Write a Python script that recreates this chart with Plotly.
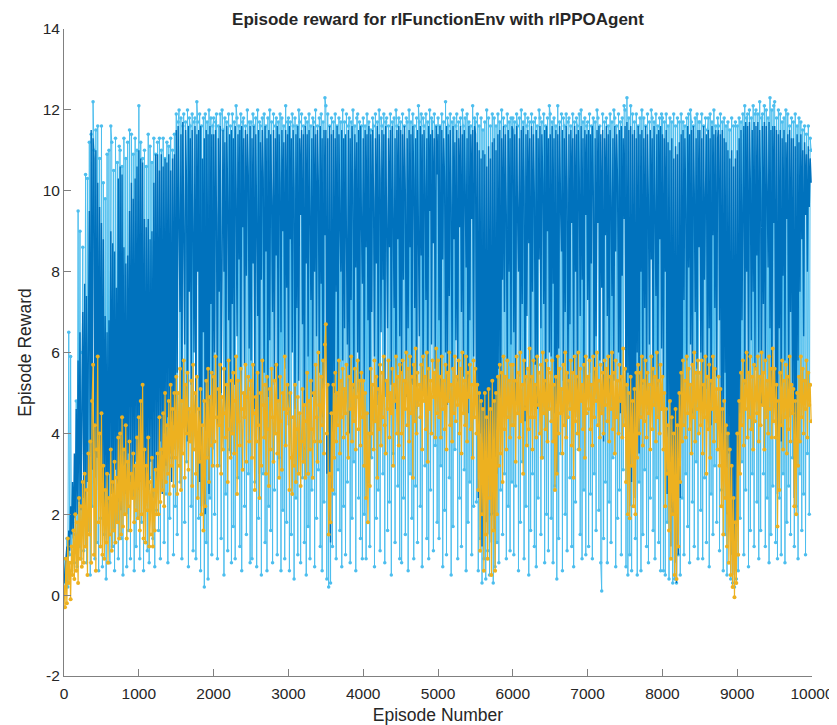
import numpy as np
import plotly.graph_objects as go

# Values, one entry per 12.5 episodes (20 entries = 250 episodes per line)
episode_reward = [
    0.3, 0.9, 0.5, 1.4, 0.2, 6.5, 1.0, 5.9, 0.6, 1.8, 2.0, 0.8, 1.5, 4.8, 0.7, 9.5, 1.2, 9.0, 0.9, 6.0,
    8.6, 1.1, 3.5, 10.4, 0.8, 10.3, 1.6, 11.2, 0.5, 11.4, 2.2, 12.2, 11.0, 0.9, 11.5, 1.3, 11.6, 0.6, 10.8, 1.9,
    11.6, 0.7, 10.2, 1.5, 9.8, 0.4, 10.9, 2.3, 11.0, 0.8, 11.6, 11.2, 1.2, 10.5, 0.6, 11.3, 1.8, 10.7, 0.9, 11.1,
    11.0, 1.4, 10.6, 0.5, 11.3, 2.0, 10.8, 0.7, 11.2, 1.6, 11.5, 0.9, 11.4, 2.6, 10.9, 0.6, 11.3, 1.2, 11.0, 1.9,
    12.1, 0.9, 11.2, 1.8, 10.8, 0.6, 11.0, 2.4, 10.6, 1.1, 11.4, 0.8, 11.1, 2.9, 10.7, 1.4, 11.3, 0.7, 10.9, 2.1,
    11.2, 1.6, 11.3, 0.9, 11.0, 3.1, 11.3, 1.3, 10.8, 2.5, 11.2, 0.8, 11.1, 1.9, 11.3, 3.4, 11.0, 1.0, 11.4, 2.2,
    11.9, 1.5, 11.7, 12.0, 2.8, 11.8, 0.9, 11.6, 11.9, 1.8, 11.7, 3.3, 12.0, 0.7, 11.8, 11.6, 2.2, 11.9, 1.1, 11.7,
    11.8, 0.9, 12.2, 11.7, 1.9, 11.9, 0.6, 11.6, 2.7, 11.8, 0.2, 11.9, 1.3, 11.7, 0.4, 12.0, 2.4, 11.8, 1.0, 11.6,
    11.8, 2.0, 11.7, 11.9, 0.9, 11.6, 3.2, 11.9, 1.4, 12.0, 11.5, 0.5, 11.8, 2.5, 11.7, 1.1, 11.9, 3.6, 11.6, 0.8,
    11.9, 1.7, 11.7, 0.9, 12.1, 11.8, 2.9, 11.6, 1.2, 11.9, 0.6, 11.7, 11.8, 2.2, 11.6, 1.5, 12.0, 3.0, 11.7, 0.8,
    11.7, 0.9, 11.9, 11.6, 2.8, 11.8, 0.7, 12.0, 1.9, 11.7, 11.6, 0.5, 11.8, 3.0, 11.9, 1.3, 11.6, 0.6, 11.8, 2.2,
    12.0, 1.6, 11.7, 0.8, 11.9, 2.6, 11.6, 11.8, 1.0, 11.7, 3.4, 11.9, 0.6, 11.8, 2.1, 11.6, 0.9, 12.1, 1.8, 11.7,
    11.8, 0.6, 11.7, 1.5, 11.9, 11.6, 0.4, 11.8, 2.4, 11.6, 1.0, 12.0, 11.7, 0.8, 11.9, 2.9, 11.6, 1.3, 11.8, 0.5,
    11.7, 1.7, 11.9, 0.9, 11.6, 2.6, 11.8, 11.7, 0.7, 12.0, 1.9, 11.6, 3.1, 11.8, 1.2, 11.9, 0.6, 11.7, 2.3, 12.3,
    12.1, 0.4, 11.9, 0.2, 11.6, 0.3, 11.8, 1.2, 11.7, 2.5, 11.9, 0.9, 11.6, 3.1, 11.8, 1.6, 11.7, 0.7, 12.0, 2.2,
    11.7, 1.0, 11.9, 2.8, 11.6, 11.8, 0.8, 11.7, 1.9, 12.0, 3.3, 11.6, 0.6, 11.8, 11.9, 2.4, 11.7, 1.4, 11.6, 0.9,
    11.8, 2.0, 11.6, 0.9, 11.9, 2.8, 11.7, 1.2, 11.5, 3.4, 11.8, 11.6, 0.7, 11.9, 1.9, 11.7, 2.6, 12.0, 1.1, 11.8,
    11.6, 3.0, 11.9, 0.8, 11.7, 11.8, 1.6, 11.6, 2.3, 11.9, 0.5, 11.7, 3.5, 11.8, 1.3, 12.0, 11.6, 2.7, 11.8, 0.9,
    11.7, 0.8, 11.9, 2.4, 11.6, 1.5, 11.8, 11.7, 0.6, 12.0, 3.0, 11.7, 1.9, 11.9, 0.9, 11.6, 2.7, 11.8, 1.3, 12.1,
    11.7, 2.2, 11.9, 0.7, 11.8, 11.6, 3.2, 11.9, 1.4, 11.7, 0.9, 12.0, 2.6, 11.8, 11.7, 1.1, 11.9, 3.7, 11.6, 1.8,
    11.8, 1.4, 11.6, 3.2, 11.9, 0.7, 11.7, 2.1, 12.2, 1.0, 11.8, 11.6, 2.9, 11.9, 0.5, 11.7, 1.7, 11.8, 3.6, 11.6,
    11.9, 0.9, 11.7, 2.4, 11.8, 1.2, 12.0, 11.6, 3.1, 11.8, 0.6, 11.9, 1.8, 11.7, 2.8, 11.6, 1.0, 12.1, 2.2, 11.8,
    11.7, 2.3, 11.9, 0.6, 11.6, 1.4, 11.8, 0.3, 11.5, 0.9, 11.7, 0.4, 12.0, 1.1, 11.8, 0.5, 11.6, 2.0, 11.9, 0.3,
    11.8, 0.7, 11.6, 1.3, 11.9, 0.8, 11.7, 2.6, 12.0, 1.5, 11.8, 3.0, 11.6, 0.9, 11.9, 2.2, 11.7, 1.1, 11.8, 2.8,
    11.8, 1.0, 11.7, 2.7, 11.9, 11.6, 0.6, 11.8, 1.8, 12.0, 3.3, 11.7, 0.9, 11.9, 2.2, 11.6, 11.8, 0.5, 11.7, 1.6,
    11.9, 3.0, 11.7, 1.2, 11.8, 0.7, 11.6, 2.4, 12.0, 11.8, 1.5, 11.7, 3.4, 11.9, 0.8, 11.6, 2.0, 11.8, 1.1, 12.1,
    11.9, 1.9, 11.7, 0.8, 11.8, 2.7, 11.6, 0.4, 12.1, 1.4, 11.7, 3.5, 11.9, 0.6, 11.8, 11.6, 2.0, 11.9, 1.1, 11.7,
    11.8, 2.9, 11.6, 1.2, 11.9, 0.7, 11.7, 2.3, 11.8, 11.6, 3.6, 11.9, 1.5, 12.0, 0.9, 11.7, 2.6, 11.8, 1.0, 11.6,
    11.7, 1.2, 11.9, 2.5, 11.6, 0.9, 11.8, 3.0, 11.7, 1.6, 12.0, 11.8, 2.1, 11.6, 0.8, 0.1, 11.9, 1.4, 11.7, 2.8,
    11.8, 0.8, 11.6, 2.3, 11.9, 1.3, 11.7, 3.4, 12.0, 11.8, 0.7, 11.6, 1.9, 11.9, 2.6, 11.7, 1.0, 11.8, 3.1, 12.1,
    12.0, 0.7, 12.3, 0.5, 11.8, 1.0, 12.1, 0.6, 11.9, 2.2, 11.7, 1.4, 11.9, 0.5, 11.6, 2.8, 11.8, 0.6, 12.0, 1.5,
    11.8, 3.1, 11.6, 1.2, 11.9, 0.8, 11.7, 2.4, 12.0, 11.8, 1.6, 11.7, 0.9, 11.9, 2.9, 11.6, 1.3, 11.8, 0.6, 11.9,
    11.8, 0.6, 11.7, 0.5, 11.9, 1.8, 11.6, 0.4, 11.8, 2.2, 11.7, 0.3, 11.9, 0.4, 11.6, 0.3, 11.8, 1.0, 11.7, 0.5,
    11.9, 2.4, 11.7, 1.0, 11.6, 3.0, 11.8, 1.7, 11.9, 0.8, 12.0, 11.7, 2.3, 11.6, 1.2, 11.8, 3.3, 11.9, 0.9, 11.7,
    11.7, 2.1, 11.9, 0.9, 11.6, 2.9, 11.8, 1.3, 11.5, 11.8, 0.7, 11.9, 2.5, 11.7, 1.5, 12.0, 3.2, 11.6, 1.8, 11.8,
    11.6, 1.1, 11.9, 2.6, 11.7, 0.6, 11.8, 1.5, 11.6, 0.5, 11.7, 2.0, 11.5, 0.4, 11.8, 0.3, 11.6, 0.2, 11.7, 0.4,
    11.6, 0.6, 11.8, 1.9, 11.7, 3.3, 11.9, 1.0, 12.1, 2.6, 11.8, 11.9, 0.7, 12.0, 1.6, 11.8, 3.0, 12.1, 1.2, 11.9,
    12.0, 2.3, 11.9, 0.9, 12.2, 1.6, 11.8, 11.9, 3.0, 12.1, 1.2, 12.0, 2.4, 11.8, 0.8, 12.3, 1.5, 12.0, 2.7, 12.1,
    12.2, 1.3, 11.8, 0.9, 12.0, 2.4, 11.9, 1.0, 11.7, 3.0, 11.8, 0.8, 12.0, 1.8, 11.9, 2.7, 11.6, 1.5, 11.8, 3.4,
    11.7, 1.2, 11.9, 2.2, 11.6, 0.9, 11.8, 3.0, 11.7, 1.6, 11.5, 2.5, 11.6, 1.0, 11.4, 3.5, 11.6, 2.0, 11.3, 11.0,
]

average_reward = [
    0.3, 0.6, 0.9, 1.2, 0.8, 1.6, 1.1, 2.2, 1.5, 2.8, 1.4, 3.5, 1.9, 4.6, 2.0, 5.8, 2.3, 6.5, 2.1, 5.2,
    7.0, 2.4, 7.7, 2.2, 7.4, 2.8, 6.6, 9.5, 2.5, 11.5, 3.1, 11.3, 10.8, 2.9, 11.0, 3.4, 10.2, 2.6, 9.6, 3.0,
    9.2, 2.4, 8.8, 2.1, 6.9, 2.6, 6.5, 1.9, 6.8, 3.0, 9.0, 2.5, 8.7, 2.2, 8.5, 3.1, 7.6, 2.7, 10.3, 2.3,
    10.6, 2.1, 10.4, 3.2, 8.6, 2.5, 8.2, 2.0, 8.4, 3.5, 9.5, 2.8, 10.2, 3.0, 9.8, 2.4, 10.3, 3.3, 10.6, 2.6,
    11.0, 2.8, 10.8, 3.4, 10.7, 2.6, 9.3, 2.2, 9.1, 3.0, 9.3, 2.6, 8.8, 3.3, 9.0, 2.4, 10.2, 3.1, 10.9, 2.7,
    10.9, 3.0, 10.5, 3.8, 10.9, 2.5, 10.6, 4.0, 10.8, 3.2, 10.7, 4.4, 10.9, 3.5, 10.5, 2.8, 10.8, 4.2, 10.9, 3.6,
    11.5, 5.5, 11.6, 9.2, 7.0, 11.4, 4.8, 11.7, 8.6, 6.2, 11.5, 10.1, 3.8, 11.6, 7.5, 11.3, 5.2, 11.5, 9.0, 6.0,
    11.6, 4.5, 11.4, 8.0, 11.5, 2.8, 11.6, 2.2, 10.8, 6.5, 11.3, 2.0, 11.5, 4.1, 11.4, 2.5, 11.6, 7.2, 11.4, 3.6,
    11.4, 6.0, 11.5, 9.4, 4.2, 11.3, 7.5, 11.6, 5.0, 10.2, 11.5, 8.0, 11.2, 4.5, 11.6, 9.7, 6.8, 11.4, 3.5, 11.5,
    7.2, 11.3, 5.2, 11.6, 10.0, 6.4, 11.4, 8.3, 11.5, 4.8, 11.6, 9.1, 11.3, 5.7, 11.5, 7.9, 11.4, 10.4, 6.1, 11.6,
    5.8, 11.3, 8.2, 11.6, 4.6, 11.4, 9.6, 6.9, 11.5, 3.0, 11.2, 7.8, 11.5, 10.3, 5.5, 11.6, 8.5, 11.3, 4.9, 11.5,
    6.3, 11.4, 9.8, 7.0, 11.5, 5.2, 11.3, 8.4, 11.6, 4.8, 11.4, 10.2, 6.5, 11.5, 9.0, 11.2, 5.6, 11.5, 7.6, 11.4,
    4.2, 11.6, 8.8, 11.3, 6.0, 11.5, 10.0, 4.6, 11.4, 7.1, 11.6, 5.3, 11.3, 9.4, 11.5, 6.7, 11.4, 3.6, 11.6, 8.2,
    11.4, 5.9, 11.5, 9.6, 7.3, 11.3, 4.9, 11.6, 8.0, 11.4, 6.4, 11.5, 10.1, 5.5, 11.6, 7.7, 11.3, 4.4, 11.5, 8.9,
    11.5, 3.0, 11.3, 1.5, 11.6, 1.3, 11.4, 2.6, 11.5, 5.0, 11.3, 7.5, 11.6, 4.6, 11.4, 9.2, 8.0, 11.5, 5.8, 11.3,
    6.6, 11.4, 9.5, 6.2, 11.5, 4.0, 11.3, 7.3, 11.6, 10.0, 5.1, 11.4, 8.1, 11.2, 6.0, 11.5, 4.4, 11.6, 9.3, 7.7,
    11.3, 5.3, 11.5, 8.6, 11.4, 6.8, 11.6, 3.4, 11.4, 7.0, 11.5, 9.8, 5.9, 11.3, 8.2, 11.6, 4.7, 11.4, 10.3, 6.5,
    11.5, 7.8, 11.4, 4.9, 11.6, 9.4, 6.6, 11.3, 8.6, 11.5, 5.2, 11.6, 10.0, 7.1, 11.3, 4.6, 11.5, 8.8, 11.6, 6.4,
    11.5, 5.5, 11.4, 7.8, 11.6, 9.9, 4.9, 11.3, 6.6, 11.5, 8.6, 11.4, 5.2, 11.6, 10.3, 7.1, 11.3, 4.6, 11.5, 9.0,
    6.4, 11.6, 8.4, 11.4, 5.0, 11.5, 10.1, 7.3, 11.3, 4.8, 11.6, 9.5, 11.4, 6.2, 11.5, 8.7, 11.3, 5.6, 11.6, 10.4,
    11.4, 6.8, 11.6, 5.0, 11.5, 8.3, 11.3, 10.2, 6.0, 11.6, 4.7, 11.4, 7.4, 11.5, 9.6, 5.6, 11.6, 8.8, 11.2, 6.3,
    11.5, 4.9, 11.3, 9.1, 11.6, 7.0, 11.4, 5.4, 11.5, 10.0, 8.1, 11.3, 4.5, 11.6, 6.8, 11.4, 9.3, 11.5, 5.9, 11.6,
    11.4, 5.2, 11.2, 2.4, 11.0, 4.0, 10.8, 1.2, 11.0, 2.8, 10.9, 1.8, 10.6, 1.5, 11.1, 3.2, 10.8, 1.3, 11.2, 2.0,
    11.3, 1.6, 11.0, 3.0, 11.4, 5.6, 11.5, 4.2, 11.3, 7.8, 11.6, 7.0, 11.4, 9.3, 5.8, 11.5, 8.0, 11.3, 6.2, 11.6,
    11.5, 6.5, 11.4, 4.8, 11.6, 9.5, 8.0, 11.3, 5.4, 11.5, 7.2, 11.6, 10.1, 4.3, 11.4, 6.9, 11.5, 8.7, 11.3, 5.0,
    11.6, 7.5, 11.4, 9.8, 5.7, 11.5, 4.6, 11.3, 8.3, 11.6, 6.6, 11.4, 10.2, 7.2, 11.5, 4.9, 11.6, 9.0, 11.3, 6.0,
    11.4, 5.9, 11.6, 7.7, 11.3, 4.5, 11.5, 3.0, 11.4, 6.1, 11.6, 9.6, 8.5, 11.5, 5.3, 11.3, 7.0, 11.6, 10.0, 4.9,
    11.4, 6.7, 11.5, 9.2, 11.3, 5.5, 11.6, 8.0, 11.4, 4.4, 11.5, 10.3, 6.9, 11.6, 7.8, 11.3, 5.0, 11.5, 9.4, 11.4,
    7.3, 11.5, 5.5, 11.4, 8.2, 11.6, 10.0, 4.7, 11.3, 6.4, 11.5, 9.2, 11.6, 5.8, 11.4, 7.6, 11.5, 3.8, 11.3, 8.9,
    11.6, 6.9, 11.4, 4.9, 11.5, 9.7, 7.4, 11.3, 5.3, 11.6, 8.5, 11.4, 10.1, 6.0, 11.5, 4.5, 11.6, 7.9, 11.3, 9.3,
    11.6, 3.8, 11.7, 5.5, 11.5, 2.2, 11.6, 2.8, 11.4, 4.0, 11.5, 2.4, 11.3, 6.0, 11.6, 3.5, 11.4, 8.0, 11.5, 5.2,
    11.3, 7.1, 11.6, 4.6, 11.4, 9.6, 6.2, 11.5, 8.3, 11.3, 5.0, 11.6, 10.0, 7.4, 11.4, 4.8, 11.5, 8.8, 11.6, 6.1,
    11.4, 5.4, 11.3, 8.0, 11.5, 2.5, 11.2, 4.8, 11.0, 1.2, 11.3, 2.0, 10.8, 0.8, 11.1, 0.3, 10.9, 1.0, 11.2, 2.4,
    11.4, 5.0, 11.5, 7.3, 11.3, 9.4, 5.8, 11.6, 8.1, 11.4, 6.2, 11.5, 4.5, 11.6, 10.0, 7.0, 11.3, 5.6, 11.5, 8.6,
    11.5, 6.0, 11.3, 4.5, 11.6, 7.8, 9.9, 11.4, 5.1, 11.5, 6.6, 11.3, 4.2, 11.6, 8.9, 11.4, 7.1, 11.5, 5.4, 11.3,
    11.5, 6.8, 11.4, 4.0, 11.5, 3.2, 11.3, 5.5, 11.2, 2.0, 11.0, 3.5, 10.8, 1.0, 11.0, 0.5, 10.6, 1.2, 10.8, 0.6,
    11.0, 2.0, 11.3, 4.5, 11.5, 6.8, 9.6, 11.6, 5.2, 11.7, 8.0, 11.6, 4.8, 11.7, 10.2, 6.3, 11.5, 7.5, 11.7, 5.6,
    11.6, 8.4, 11.7, 6.0, 11.5, 9.8, 4.7, 11.6, 7.2, 11.7, 5.5, 11.6, 10.0, 8.1, 11.7, 6.6, 11.5, 4.9, 11.6, 9.2,
    11.6, 4.2, 11.5, 2.5, 11.4, 6.6, 11.5, 3.8, 11.3, 7.9, 11.5, 5.8, 11.2, 9.3, 11.4, 4.4, 11.5, 7.0, 11.3, 5.2,
    11.3, 2.4, 11.1, 3.5, 11.4, 5.8, 11.2, 7.5, 11.4, 8.8, 11.0, 6.4, 11.2, 9.4, 10.9, 8.0, 11.1, 9.6, 10.8, 10.2,
]

episode_q0 = [
    0.2, -0.3, 0.9, -0.2, 1.4, 0.3, 0.8, -0.1, 1.2, 0.5, 1.6, 0.4, 2.0, 0.6, 1.8, 0.3, 2.4, 0.9, 2.2, 0.7,
    2.8, 0.8, 3.0, 1.2, 2.6, 0.5, 3.5, 1.5, 3.8, 0.8, 4.8, 5.7, 1.0, 4.2, 0.6, 3.6, 5.9, 1.8, 4.0, 1.2,
    4.5, 1.0, 3.2, 0.9, 2.6, 1.3, 3.0, 0.8, 2.4, 1.5, 3.6, 1.1, 2.8, 1.6, 3.3, 1.3, 2.9, 1.8, 3.9, 1.4,
    4.0, 1.5, 4.4, 1.7, 3.6, 2.0, 4.2, 1.4, 3.3, 2.2, 3.8, 1.6, 3.0, 2.4, 3.5, 1.8, 3.2, 2.1, 3.9, 1.9,
    4.4, 1.6, 4.8, 2.0, 5.2, 1.4, 3.6, 1.3, 3.2, 2.1, 3.9, 1.2, 2.8, 1.5, 3.4, 1.2, 2.6, 1.6, 3.1, 2.0,
    3.5, 2.0, 4.4, 2.3, 3.6, 2.6, 4.5, 2.2, 5.0, 2.8, 4.2, 3.0, 4.8, 2.5, 5.2, 3.2, 4.6, 2.7, 5.0, 3.4,
    5.4, 2.5, 5.0, 3.2, 5.6, 2.6, 4.8, 3.5, 5.8, 2.9, 5.2, 4.0, 5.5, 3.1, 4.6, 3.8, 5.3, 2.7, 5.7, 3.6,
    5.0, 3.0, 5.4, 2.4, 4.6, 3.3, 5.1, 2.0, 4.2, 1.6, 4.8, 2.2, 5.3, 3.4, 5.6, 2.8, 4.9, 3.7, 5.5, 3.2,
    5.4, 3.8, 5.9, 4.4, 3.2, 5.1, 4.2, 5.7, 3.0, 4.9, 3.6, 5.6, 4.5, 3.9, 5.2, 2.8, 5.8, 4.1, 3.4, 5.3,
    4.0, 5.5, 3.5, 4.8, 5.9, 2.5, 5.3, 4.3, 3.7, 5.6, 4.6, 3.1, 5.0, 4.4, 5.7, 3.3, 4.9, 5.4, 3.8, 5.1,
    5.3, 3.4, 5.7, 4.5, 2.6, 4.9, 3.8, 5.5, 4.2, 2.4, 5.0, 3.2, 5.8, 4.7, 3.9, 5.2, 3.0, 5.4, 4.1, 2.7,
    5.1, 3.6, 5.6, 4.4, 3.3, 5.3, 4.0, 5.7, 3.5, 4.8, 2.9, 5.4, 4.3, 3.1, 5.0, 4.6, 5.9, 3.7, 4.5, 5.2,
    4.6, 2.6, 5.0, 3.4, 2.5, 4.4, 3.2, 5.2, 2.8, 4.1, 4.9, 3.0, 4.5, 2.7, 3.8, 5.1, 3.3, 4.7, 2.9, 4.3,
    5.5, 3.0, 4.8, 3.6, 5.3, 4.1, 2.9, 5.0, 3.8, 5.7, 4.4, 3.3, 6.0, 4.7, 3.8, 5.4, 4.2, 5.8, 3.5, 6.2,
    6.7, 4.0, 5.2, 1.5, 3.0, 1.8, 4.5, 2.6, 5.2, 3.4, 5.5, 3.8, 5.0, 4.2, 5.8, 3.5, 5.3, 4.4, 5.6, 3.9,
    5.1, 4.5, 5.7, 4.0, 3.4, 5.4, 4.6, 5.9, 3.8, 5.2, 4.3, 5.6, 3.6, 4.9, 5.8, 4.1, 5.3, 3.7, 5.5, 4.4,
    5.3, 3.2, 5.0, 2.4, 4.5, 1.8, 4.0, 2.7, 5.6, 4.0, 5.2, 3.6, 5.8, 4.3, 5.4, 2.9, 5.1, 4.1, 5.7, 3.7,
    5.5, 4.4, 5.9, 4.2, 3.5, 5.3, 4.6, 5.8, 3.9, 5.0, 4.5, 5.6, 3.2, 5.2, 4.8, 5.9, 4.0, 5.4, 3.7, 5.7,
    5.5, 4.0, 5.8, 3.4, 5.3, 4.6, 6.0, 4.2, 5.6, 3.8, 5.9, 4.5, 5.4, 2.9, 5.7, 4.3, 6.1, 4.0, 5.5, 4.7,
    5.2, 4.4, 5.7, 3.6, 5.9, 4.8, 5.4, 4.1, 6.0, 3.3, 5.6, 4.6, 5.3, 4.0, 5.8, 4.9, 5.5, 3.9, 6.1, 4.5,
    5.8, 4.4, 5.4, 3.9, 5.9, 4.6, 5.3, 4.1, 5.7, 3.6, 5.5, 4.8, 6.0, 4.2, 5.2, 3.8, 5.6, 4.5, 5.9, 4.3,
    5.4, 4.7, 5.8, 4.0, 5.6, 3.5, 6.0, 4.5, 5.3, 4.2, 5.9, 3.8, 5.5, 4.9, 5.7, 4.1, 5.2, 3.4, 5.8, 4.4,
    5.6, 4.0, 5.2, 2.6, 5.0, 1.1, 4.8, 2.0, 4.6, 0.6, 5.0, 1.5, 4.4, 0.9, 5.1, 2.4, 4.6, 0.5, 5.3, 1.6,
    4.8, 0.6, 5.0, 2.0, 5.4, 3.2, 5.7, 3.5, 5.5, 2.8, 5.9, 4.1, 5.4, 3.6, 5.8, 4.4, 5.3, 3.9, 5.7, 4.2,
    5.7, 4.2, 5.3, 3.3, 5.9, 4.5, 5.5, 3.9, 6.0, 4.3, 5.2, 3.0, 5.8, 4.6, 5.4, 3.7, 5.6, 4.1, 6.1, 4.4,
    5.4, 3.6, 5.8, 4.4, 5.2, 3.9, 5.9, 4.7, 5.5, 4.0, 5.7, 3.4, 6.0, 4.5, 5.3, 4.1, 5.8, 3.8, 5.6, 4.6,
    5.5, 4.3, 5.8, 3.8, 5.2, 2.6, 5.4, 3.0, 5.9, 4.0, 5.6, 4.5, 5.1, 3.5, 5.7, 4.2, 6.0, 3.9, 5.5, 4.4,
    5.3, 4.6, 5.8, 3.7, 5.5, 2.9, 5.9, 4.3, 5.4, 4.0, 6.0, 3.6, 5.6, 4.8, 5.2, 4.1, 5.7, 3.4, 5.9, 4.5,
    5.4, 4.6, 5.8, 4.1, 5.2, 3.7, 5.9, 4.4, 5.6, 4.8, 6.0, 4.2, 5.3, 3.9, 5.7, 4.5, 5.5, 4.0, 5.8, 4.7,
    5.6, 4.3, 5.9, 3.8, 5.4, 4.6, 6.0, 4.1, 5.5, 3.5, 5.8, 4.4, 5.3, 4.0, 5.7, 4.8, 5.4, 3.9, 6.1, 4.2,
    5.6, 2.8, 5.2, 2.0, 5.0, 1.9, 5.4, 3.2, 4.8, 2.2, 5.1, 2.0, 5.5, 3.4, 5.7, 4.0, 5.5, 4.4, 5.9, 3.7,
    5.3, 4.3, 5.8, 3.9, 5.5, 4.5, 5.2, 3.6, 5.9, 4.1, 5.6, 4.7, 5.4, 3.8, 6.0, 4.4, 5.3, 4.0, 5.7, 4.6,
    5.4, 3.6, 5.0, 2.2, 4.6, 3.0, 4.2, 1.6, 4.8, 0.9, 4.4, 2.0, 4.0, 0.5, 4.6, 0.4, 4.2, 1.2, 5.0, 2.8,
    5.5, 3.8, 5.8, 4.2, 5.3, 3.9, 5.9, 4.5, 5.6, 4.1, 5.2, 3.5, 5.7, 4.4, 6.0, 3.8, 5.5, 4.6, 5.8, 4.0,
    5.5, 4.2, 5.8, 3.5, 5.2, 4.4, 5.9, 3.0, 5.4, 4.1, 5.7, 3.4, 5.3, 4.6, 5.9, 3.8, 5.6, 4.3, 5.1, 3.6,
    5.4, 3.2, 5.1, 2.2, 4.6, 1.5, 4.8, 2.4, 4.2, 1.2, 4.0, 0.8, 3.6, 0.5, 3.2, 0.2, 2.4, -0.05, 1.8, 0.3,
    4.0, 1.0, 4.8, 3.0, 5.5, 4.2, 5.8, 3.7, 5.3, 4.6, 6.0, 3.9, 5.5, 4.4, 5.9, 4.1, 5.4, 3.6, 5.7, 4.3,
    5.6, 4.5, 5.9, 3.8, 5.4, 4.2, 6.0, 4.7, 5.5, 3.6, 5.8, 4.4, 5.3, 4.0, 5.9, 4.6, 5.6, 3.9, 6.1, 4.3,
    5.6, 3.9, 5.2, 1.7, 4.8, 2.6, 5.5, 4.2, 5.8, 3.6, 5.3, 4.4, 5.7, 3.5, 5.4, 4.1, 5.9, 3.8, 5.2, 4.5,
    5.1, 2.2, 4.8, 2.0, 5.0, 3.2, 5.4, 3.8, 5.9, 4.4, 5.6, 4.0, 5.3, 4.6, 5.8, 3.9, 5.5, 4.7, 5.2, 4.3,
]

episode_step = 12.5
episodes = np.arange(len(episode_reward)) * episode_step + 1

x_ticks = [0, 1000, 2000, 3000, 4000, 5000, 6000, 7000, 8000, 9000, 10000]
y_ticks = [-2, 0, 2, 4, 6, 8, 10, 12, 14]

title_text = "Episode reward for rlFunctionEnv with rlPPOAgent"
x_label = "Episode Number"
y_label = "Episode Reward"

FONT = "Liberation Sans, Arial, sans-serif"
AXIS_COLOR = "#808080"
TEXT_COLOR = "#262626"

# The page body has an 8px default margin, so the figure is sized to end at the window edge.
FIG_W, FIG_H = 829, 717
M_L, M_R, M_T, M_B = 56, 25, 21, 49

fig = go.Figure()
fig.add_trace(go.Scatter(
    x=episodes, y=episode_reward, mode="lines+markers", name="Episode Reward",
    line=dict(color="#4DBEEE", width=1),
    marker=dict(color="#4DBEEE", size=3.5),
))
fig.add_trace(go.Scatter(
    x=episodes, y=average_reward, mode="lines", name="Average Reward",
    line=dict(color="#0072BD", width=1.4),
))
fig.add_trace(go.Scatter(
    x=episodes, y=episode_q0, mode="lines+markers", name="Episode Q0",
    line=dict(color="#EDB120", width=1.2),
    marker=dict(color="#EDB120", size=4),
))

fig.update_layout(
    width=FIG_W, height=FIG_H,
    margin=dict(l=M_L, r=M_R, t=M_T, b=M_B, autoexpand=False),
    paper_bgcolor="white", plot_bgcolor="white",
    showlegend=False,
    font=dict(family=FONT, size=15, color=TEXT_COLOR),
    title=dict(text="<b>" + title_text + "</b>",
               x=(M_L + (FIG_W - M_R)) / 2 / FIG_W, xref="container", xanchor="center",
               y=1 - 11 / FIG_H, yref="container", yanchor="middle",
               font=dict(size=17, color=TEXT_COLOR)),
)
fig.update_xaxes(
    range=[0, 10000], tickmode="array", tickvals=x_ticks, ticktext=[str(v) for v in x_ticks],
    showgrid=False, zeroline=False, automargin=False,
    showline=True, linecolor=AXIS_COLOR, linewidth=1, mirror=False,
    ticks="inside", ticklen=7, tickcolor=AXIS_COLOR, ticklabelstandoff=3,
    title=dict(text=x_label, font=dict(size=17.5), standoff=8),
    tickfont=dict(size=15.5, color=TEXT_COLOR),
)
fig.update_yaxes(
    range=[-2, 14], tickmode="array", tickvals=y_ticks, ticktext=[str(v) for v in y_ticks],
    showgrid=False, zeroline=False, automargin=False,
    showline=True, linecolor=AXIS_COLOR, linewidth=1, mirror=False,
    ticks="inside", ticklen=7, tickcolor=AXIS_COLOR,
    title=dict(text=y_label, font=dict(size=17.5), standoff=6),
    tickfont=dict(size=15.5, color=TEXT_COLOR),
)

fig.write_html("out.html")
